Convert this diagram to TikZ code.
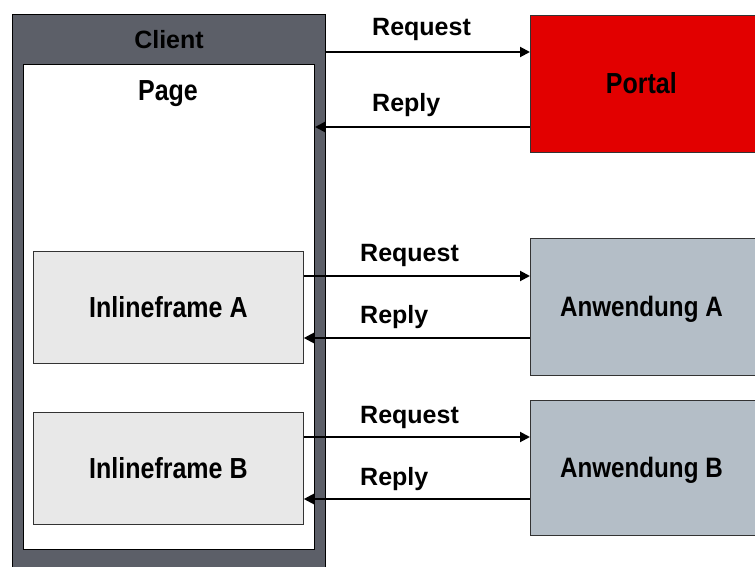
\documentclass[tikz,border=0pt]{standalone}
\usepackage{fontspec}
\usepackage{graphicx}
\setmainfont{Liberation Sans}
\usetikzlibrary{arrows.meta}
\definecolor{clientgray}{HTML}{5C5F68}
\definecolor{framegray}{HTML}{E8E8E8}
\definecolor{portalred}{HTML}{E20000}
\definecolor{appgray}{HTML}{B4BEC7}
\newcommand\boxtxt[1]{\scalebox{1}[1.16]{#1}}
\begin{document}
\begin{tikzpicture}[x=1pt,y=-1pt,
  every node/.style={font=\fontsize{25}{29}\selectfont\bfseries},
  box/.style={draw=black!80,line width=0.8pt,anchor=north west,inner sep=0pt,text height=20pt,text depth=0pt},
  lbl/.style={anchor=base west,inner sep=0pt},
  arr/.style={line width=2pt,-{Triangle[length=10pt,width=10pt]}}]
\useasboundingbox (0,0) rectangle (755,567);
% client and page
\node[box,fill=clientgray,draw=black,line width=1pt,minimum width=313pt,minimum height=560pt] (client) at (12,14) {};
\node[box,fill=white,draw=black,line width=1pt,minimum width=291pt,minimum height=485pt] (page) at (23,64) {};
\node[anchor=base,inner sep=0pt] (clientlbl) at (169,49) {Client};
\node[anchor=base,inner sep=0pt] (pagelbl) at (168,101) {\boxtxt{Page}};
% inline frames
\node[box,fill=framegray,minimum width=270pt,minimum height=112pt] (ifa) at (33,251) {\boxtxt{Inlineframe A}};
\node[box,fill=framegray,minimum width=270pt,minimum height=112pt] (ifb) at (33,412) {\boxtxt{Inlineframe B}};
% servers
\node[box,fill=portalred,minimum width=230pt,minimum height=137pt] (portal) at (530,15) {\hspace*{-8pt}\boxtxt{Portal}};
\node[box,fill=appgray,minimum width=230pt,minimum height=137pt,font=\fontsize{24.2}{29}\selectfont\bfseries] (appa) at (530,238) {\hspace*{-8pt}\boxtxt{Anwendung A}};
\node[box,fill=appgray,minimum width=230pt,minimum height=135pt,font=\fontsize{24.2}{29}\selectfont\bfseries] (appb) at (530,400) {\hspace*{-8pt}\boxtxt{Anwendung B}};
% arrows
\draw[arr] (client.east |- 0,52) -- (portal.west |- 0,52);
\draw[arr] (portal.west |- 0,127) -- (page.east |- 0,127);
\draw[arr] (ifa.east |- 0,276) -- (appa.west |- 0,276);
\draw[arr] (appa.west |- 0,338) -- (ifa.east |- 0,338);
\draw[arr] (ifb.east |- 0,437) -- (appb.west |- 0,437);
\draw[arr] (appb.west |- 0,499) -- (ifb.east |- 0,499);
% labels
\node[lbl] (req1) at (372,36) {Request};
\node[lbl] (rep1) at (372,112) {Reply};
\node[lbl] (req2) at (360,261) {Request};
\node[lbl] (rep2) at (360,323) {Reply};
\node[lbl] (req3) at (360,423) {Request};
\node[lbl] (rep3) at (360,485) {Reply};
\end{tikzpicture}
\end{document}
